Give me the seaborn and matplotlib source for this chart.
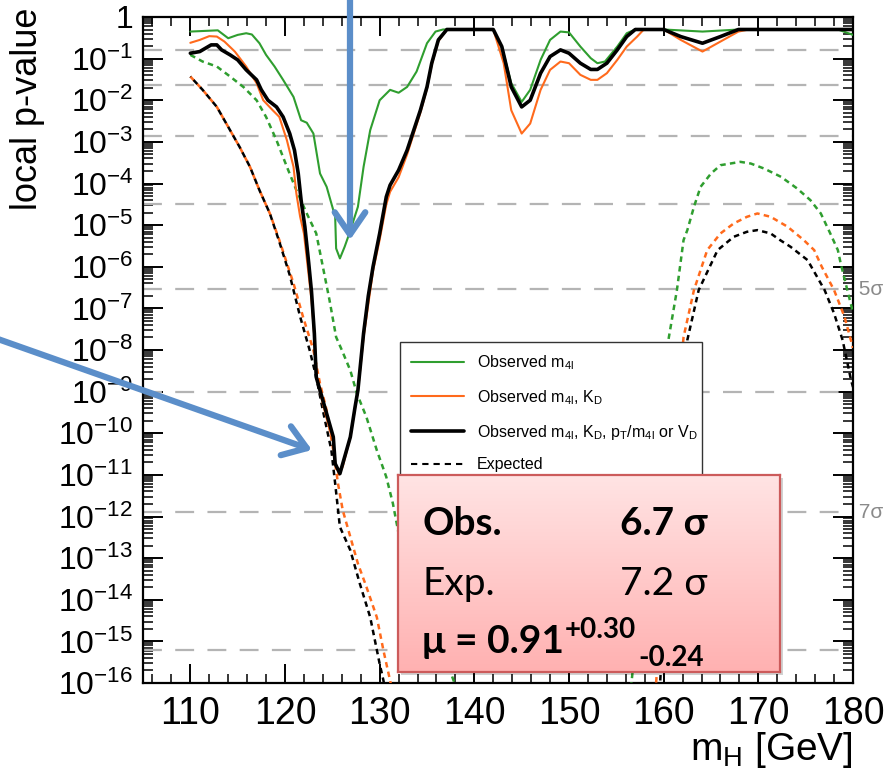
import numpy as np
import pandas as pd
import matplotlib
matplotlib.use("Agg")
import matplotlib.pyplot as plt
import seaborn as sns
from matplotlib.lines import Line2D
from matplotlib.patches import FancyArrowPatch, Rectangle
from matplotlib.colors import LinearSegmentedColormap
from matplotlib.ticker import FixedLocator, LogLocator, MultipleLocator, FuncFormatter, NullFormatter

# ---------------------------------------------------------------- data
# Observed local p-value, m4l only (log10 p)
obs_m4l_mass = [110.0, 112.9, 114.0, 115.0, 115.9, 116.5, 117.3, 118.0, 118.9, 119.8,
                120.9, 121.7, 122.3, 123.0, 123.7, 124.4, 125.3, 125.4, 125.8, 126.3,
                126.8, 127.7, 128.3, 129.0, 130.0, 131.1, 132.0, 132.9, 133.9, 135.0,
                135.9, 136.7, 142.0, 142.9, 143.9, 145.0, 145.9, 147.0, 148.0, 149.1,
                150.0, 151.2, 152.3, 153.0, 153.8, 155.1, 156.1, 157.0, 160.0, 164.1,
                168.0, 178.4, 180.0]
obs_m4l_logp = [-0.35, -0.32, -0.51, -0.43, -0.39, -0.42, -0.63, -0.91, -1.19, -1.51,
                -1.92, -2.48, -2.54, -2.80, -3.76, -4.08, -4.80, -5.56, -5.80, -5.52,
                -5.20, -4.56, -3.60, -2.72, -2.00, -1.75, -1.82, -1.68, -1.31, -0.63,
                -0.35, -0.30, -0.30, -0.71, -1.59, -2.04, -1.75, -1.03, -0.55, -0.35,
                -0.37, -0.71, -0.99, -1.11, -1.07, -0.71, -0.39, -0.30, -0.30, -0.35,
                -0.30, -0.30, -0.43]

# Observed, m4l + KD
obs_kd_mass = [110.0, 111.0, 112.0, 112.8, 113.6, 114.7, 115.9, 117.0, 117.7, 118.7,
               119.4, 120.2, 120.9, 121.2, 121.6, 122.0, 122.4, 122.8, 123.1, 123.4,
               124.0, 124.7, 125.1, 125.3, 125.7, 126.1, 126.9, 127.4, 127.7, 128.3,
               128.8, 129.3, 130.0, 130.7, 131.1, 132.0, 132.9, 133.6, 134.3, 135.0,
               135.5, 136.2, 137.1, 142.0, 143.1, 143.9, 145.0, 145.9, 147.0, 148.0,
               149.1, 150.0, 151.2, 152.3, 153.0, 154.0, 155.1, 156.1, 157.2, 157.9,
               160.0, 161.8, 164.1, 166.0, 167.9, 169.0, 180.0]
obs_kd_logp = [-0.62, -0.55, -0.46, -0.47, -0.59, -0.83, -1.19, -1.59, -2.00, -2.24,
               -2.40, -2.96, -3.60, -4.24, -4.80, -5.20, -6.00, -6.80, -7.70, -8.70,
               -9.30, -9.90, -10.20, -10.70, -11.00, -10.80, -10.10, -9.40, -9.00, -7.70,
               -6.90, -6.10, -5.35, -4.50, -4.20, -3.85, -3.30, -2.80, -2.30, -1.72,
               -1.15, -0.58, -0.30, -0.30, -1.11, -2.24, -2.80, -2.56, -1.75, -1.27,
               -1.07, -1.11, -1.39, -1.51, -1.51, -1.35, -1.03, -0.71, -0.47, -0.30,
               -0.30, -0.55, -0.83, -0.59, -0.35, -0.30, -0.30]

# Observed, m4l + KD + pT/m4l or VD
obs_full_mass = [110.0, 111.0, 112.2, 112.8, 113.3, 114.2, 115.0, 115.9, 117.0, 117.5,
                 118.2, 119.1, 119.8, 120.5, 121.0, 121.4, 121.7, 122.1, 122.5, 122.8,
                 123.1, 123.3, 124.0, 124.7, 125.1, 125.3, 125.8, 126.1, 126.9, 127.4,
                 127.7, 128.3, 128.8, 129.3, 130.0, 130.7, 131.1, 132.0, 132.9, 133.6,
                 134.3, 135.0, 135.5, 136.2, 137.1, 142.0, 142.9, 143.9, 145.0, 145.9,
                 147.0, 148.0, 149.1, 150.0, 151.2, 152.3, 153.0, 154.0, 155.1, 156.1,
                 157.0, 160.0, 161.8, 164.1, 166.0, 167.9, 180.0]
obs_full_logp = [-0.87, -0.83, -0.67, -0.67, -0.79, -0.91, -1.03, -1.27, -1.51, -1.75,
                 -2.00, -2.16, -2.40, -2.80, -3.20, -3.76, -4.40, -5.04, -5.90, -6.60,
                 -7.60, -8.65, -9.21, -9.77, -10.09, -10.73, -10.97, -10.73, -10.09, -9.37,
                 -8.97, -7.60, -6.70, -6.00, -5.20, -4.32, -4.04, -3.68, -3.20, -2.72,
                 -2.24, -1.68, -1.11, -0.55, -0.30, -0.30, -0.71, -1.68, -2.16, -2.00,
                 -1.35, -0.95, -0.79, -0.87, -1.11, -1.26, -1.26, -1.11, -0.79, -0.47,
                 -0.30, -0.30, -0.47, -0.63, -0.47, -0.30, -0.30]

# Expected, m4l only
exp_m4l_mass = [110.0, 111.3, 112.8, 114.2, 115.6, 117.0, 118.0, 119.1, 120.2, 121.2,
                122.3, 123.3, 124.0, 124.7, 125.4, 126.0, 126.9, 127.6, 128.6, 129.7,
                130.7, 131.4, 132.0, 134.0, 136.0, 137.9, 139.0, 155.5, 156.6, 158.5,
                160.5, 161.4, 162.1, 162.5, 163.2, 163.9, 165.0, 166.0, 168.1, 169.2,
                170.6, 172.4, 174.1, 175.5, 176.6, 177.6, 178.4, 178.7, 179.4, 180.0]
exp_m4l_logp = [-0.91, -1.07, -1.19, -1.43, -1.68, -2.00, -2.40, -2.96, -3.60, -4.16,
                -4.72, -5.20, -6.00, -6.80, -7.69, -8.00, -8.49, -9.05, -9.61, -10.41,
                -11.05, -11.69, -12.41, -13.60, -14.80, -16.00, -16.50, -16.50, -16.00, -11.50,
                -7.76, -6.56, -5.36, -5.12, -4.56, -4.08, -3.76, -3.56, -3.48, -3.52,
                -3.64, -3.84, -4.12, -4.40, -4.72, -5.20, -5.60, -5.92, -6.56, -7.10]

# Expected, m4l + KD
exp_kd_mass = [110.0, 111.3, 112.8, 114.2, 115.2, 116.3, 117.3, 118.4, 119.4, 120.9,
               121.9, 123.0, 123.7, 124.4, 125.1, 125.6, 126.1, 126.9, 127.7, 128.6,
               129.7, 130.4, 131.1, 131.6, 158.8, 159.2, 160.6, 162.1, 163.2, 164.6,
               166.0, 167.4, 168.8, 169.9, 171.3, 173.1, 174.8, 175.9, 176.7, 178.0,
               179.1, 180.0]
exp_kd_logp = [-1.43, -1.75, -2.16, -2.72, -3.12, -3.60, -4.16, -4.72, -5.36, -6.40,
               -7.20, -8.00, -8.81, -9.45, -10.41, -11.21, -11.85, -12.49, -13.13, -13.69,
               -14.42, -15.22, -15.94, -16.50, -16.50, -16.00, -11.50, -7.69, -6.56, -5.60,
               -5.20, -4.96, -4.80, -4.72, -4.80, -5.04, -5.36, -5.60, -6.00, -6.56,
               -7.20, -7.95]

# Expected, m4l + KD + pT/m4l or VD
exp_full_mass = [110.0, 111.3, 112.8, 114.2, 115.2, 116.3, 117.3, 118.4, 119.4, 120.5,
                 121.6, 122.6, 123.3, 124.0, 124.9, 125.3, 125.8, 126.9, 127.9, 129.0,
                 130.0, 130.4, 130.8, 159.5, 160.5, 162.5, 163.7, 165.7, 167.4, 168.8,
                 169.9, 171.3, 172.3, 173.4, 175.2, 177.0, 178.0, 178.9, 179.8, 180.0]
exp_full_logp = [-1.43, -1.75, -2.16, -2.72, -3.12, -3.60, -4.16, -4.72, -5.40, -6.20,
                 -7.20, -8.00, -8.65, -9.45, -10.41, -11.21, -12.25, -12.81, -13.61, -14.42,
                 -15.54, -15.94, -16.50, -16.50, -12.50, -7.76, -6.56, -5.60, -5.28, -5.16,
                 -5.12, -5.20, -5.36, -5.52, -5.84, -6.56, -7.12, -7.76, -8.73, -8.89]

# One-sided p-values of the 1..8 sigma reference levels
sigma_levels = [1, 2, 3, 4, 5, 6, 7, 8]
sigma_pvalues = [1.587e-1, 2.275e-2, 1.350e-3, 3.167e-5, 2.867e-7, 9.866e-10,
                 1.280e-12, 6.221e-16]
sigma_labelled = {5: "5σ", 7: "7σ"}

y_decades = list(range(0, -17, -1))
x_major_ticks = [110, 120, 130, 140, 150, 160, 170, 180]

legend_labels = ["Observed m$_{4l}$",
                 "Observed m$_{4l}$, K$_D$",
                 "Observed m$_{4l}$, K$_D$, p$_T$/m$_{4l}$ or V$_D$",
                 "Expected"]

obs_sig, exp_sig = "6.7 σ", "7.2 σ"
mu_text, mu_up, mu_down = "μ = 0.91", "+0.30", "-0.24"

# ---------------------------------------------------------------- style
GREEN = "#2f9e2f"
ORANGE = "#ff6a1c"
BLACK = "#000000"
BLUE = "#5b8ec9"
W, H = 893, 777

sns.set_theme(style="ticks")
plt.rcParams["font.family"] = ["Liberation Sans", "DejaVu Sans"]
plt.rcParams["mathtext.default"] = "regular"
plt.rcParams["text.color"] = "black"
box_font = ["Lato", "Open Sans", "DejaVu Sans"]


def fx(x):
    return x / W


def fy(y):
    return 1 - y / H


fig = plt.figure(figsize=(W / 100, H / 100), dpi=100)
ax = fig.add_axes([fx(143), fy(683), (853 - 143) / W, (683 - 17) / H])
ax.set_yscale("log")

# sigma reference lines
for lvl, p in zip(sigma_levels, sigma_pvalues):
    ax.axhline(p, color="#b4b4b4", lw=1.6, dashes=(8.5, 6.0), zorder=1)
    if lvl in sigma_labelled:
        ax.text(1.0, p, " " + sigma_labelled[lvl], transform=ax.get_yaxis_transform(),
                ha="left", va="center", fontsize=15, color="#8a8a8a", clip_on=False)

dot = (0, (2.2, 1.7))
series = [
    (exp_m4l_mass, exp_m4l_logp, GREEN, 1.8, dot),
    (exp_kd_mass, exp_kd_logp, ORANGE, 1.8, dot),
    (exp_full_mass, exp_full_logp, BLACK, 1.8, (2.0, (2.2, 1.7))),
    (obs_m4l_mass, obs_m4l_logp, GREEN, 1.5, "-"),
    (obs_kd_mass, obs_kd_logp, ORANGE, 1.5, "-"),
    (obs_full_mass, obs_full_logp, BLACK, 2.6, "-"),
]
for mass, logp, col, lw, ls in series:
    df = pd.DataFrame({"mH": mass, "p": np.power(10.0, logp)})
    sns.lineplot(data=df, x="mH", y="p", ax=ax, color=col, lw=lw, linestyle=ls,
                 sort=False, estimator=None, legend=False, zorder=3)

ax.set_xlim(105, 180)
ax.set_ylim(1e-16, 1)
ax.set_xlabel("")
ax.set_ylabel("")

# axes frame and ticks
for s in ax.spines.values():
    s.set_visible(True)
    s.set_color("black")
    s.set_linewidth(1.6)
ax.xaxis.set_major_locator(FixedLocator(x_major_ticks))
ax.xaxis.set_minor_locator(MultipleLocator(2))
ax.yaxis.set_major_locator(FixedLocator([10.0 ** k for k in y_decades]))
ax.yaxis.set_minor_locator(LogLocator(base=10, subs=np.arange(2, 10), numticks=400))
ax.yaxis.set_minor_formatter(NullFormatter())
ax.yaxis.set_major_formatter(FuncFormatter(
    lambda v, _: "1" if v >= 0.5 else "$10^{%d}$" % int(round(np.log10(v)))))
ax.tick_params(which="both", direction="in", top=True, right=True, bottom=True,
               left=True, colors="black")
ax.tick_params(which="major", width=1.4)
ax.tick_params(which="minor", width=1.1)
ax.tick_params(axis="x", which="major", length=13.5, labelsize=27, pad=9)
ax.tick_params(axis="x", which="minor", length=6.5)
ax.tick_params(axis="y", which="major", length=14.5, labelsize=23, pad=7)
ax.tick_params(axis="y", which="minor", length=7.5)

# axis titles
fig.text(fx(28), fy(8), "local p-value", rotation=90, ha="center", va="top",
         fontsize=26, color="black")
fig.text(fx(853), fy(760), "m$_H$ [GeV]", ha="right", va="baseline", fontsize=28,
         color="black")

# legend
handles = [Line2D([], [], color=GREEN, lw=1.5),
           Line2D([], [], color=ORANGE, lw=1.5),
           Line2D([], [], color=BLACK, lw=2.6),
           Line2D([], [], color=BLACK, lw=1.5, linestyle=(0, (3, 2.4)))]
leg = ax.legend(handles, legend_labels, loc="upper left",
                bbox_to_anchor=(fx(400), fy(485), (702 - 400) / W, (485 - 342) / H),
                bbox_transform=fig.transFigure, mode="expand", borderaxespad=0,
                fontsize=11.5, handlelength=3.3, handletextpad=0.8, borderpad=0.7,
                labelspacing=1.0, frameon=True, fancybox=False, framealpha=1)
leg.get_frame().set_edgecolor("#333333")
leg.get_frame().set_linewidth(1.0)
for t in leg.get_texts():
    t.set_color("black")

# result box with gradient fill
shadow = Rectangle((fx(401), fy(675)), (780 - 398) / W, (672 - 475) / H,
                   transform=fig.transFigure, facecolor="#000000", alpha=0.18,
                   edgecolor="none", zorder=2)
fig.add_artist(shadow)
box = fig.add_axes([fx(398), fy(672), (780 - 398) / W, (672 - 475) / H], zorder=2.5)
cmap = LinearSegmentedColormap.from_list("rose", ["#ffe4e4", "#ffb1b1"])
box.imshow(np.linspace(0, 1, 256)[:, None], aspect="auto", cmap=cmap,
           extent=[0, 1, 0, 1])
box.set_xticks([])
box.set_yticks([])
for s in box.spines.values():
    s.set_visible(True)
    s.set_color("#cc5b5b")
    s.set_linewidth(1.6)

fig.text(fx(422), fy(535), "Obs.", fontsize=28, fontweight="bold", family=box_font,
         va="baseline", zorder=4)
fig.text(fx(620), fy(535), obs_sig, fontsize=28, fontweight="bold", family=box_font,
         va="baseline", zorder=4)
fig.text(fx(422), fy(595), "Exp.", fontsize=28, family=box_font, va="baseline", zorder=4)
fig.text(fx(620), fy(595), exp_sig, fontsize=28, family=box_font, va="baseline", zorder=4)
t_mu = fig.text(fx(422), fy(653), mu_text, fontsize=28, fontweight="bold",
                family=box_font, va="baseline", zorder=4)
fig.canvas.draw()
bb = t_mu.get_window_extent()
t_up = fig.text((bb.x1 + 1) / W, fy(638), mu_up, fontsize=20, fontweight="bold",
                family=box_font, va="baseline", zorder=4)
fig.canvas.draw()
bb2 = t_up.get_window_extent()
fig.text((bb2.x1 + 2) / W, fy(666), mu_down, fontsize=20, fontweight="bold",
         family=box_font, va="baseline", zorder=4)

# pointer arrows
for start, tip in [((350, -5), (350, 240)), ((-5, 338), (312, 450))]:
    arr = FancyArrowPatch((fx(start[0]), fy(start[1])), (fx(tip[0]), fy(tip[1])),
                          transform=fig.transFigure,
                          arrowstyle="->,head_length=0.8,head_width=0.55",
                          mutation_scale=20, lw=4.5, color=BLUE,
                          shrinkA=0, shrinkB=0, zorder=5)
    fig.add_artist(arr)

fig.savefig("out.png", dpi=100)
